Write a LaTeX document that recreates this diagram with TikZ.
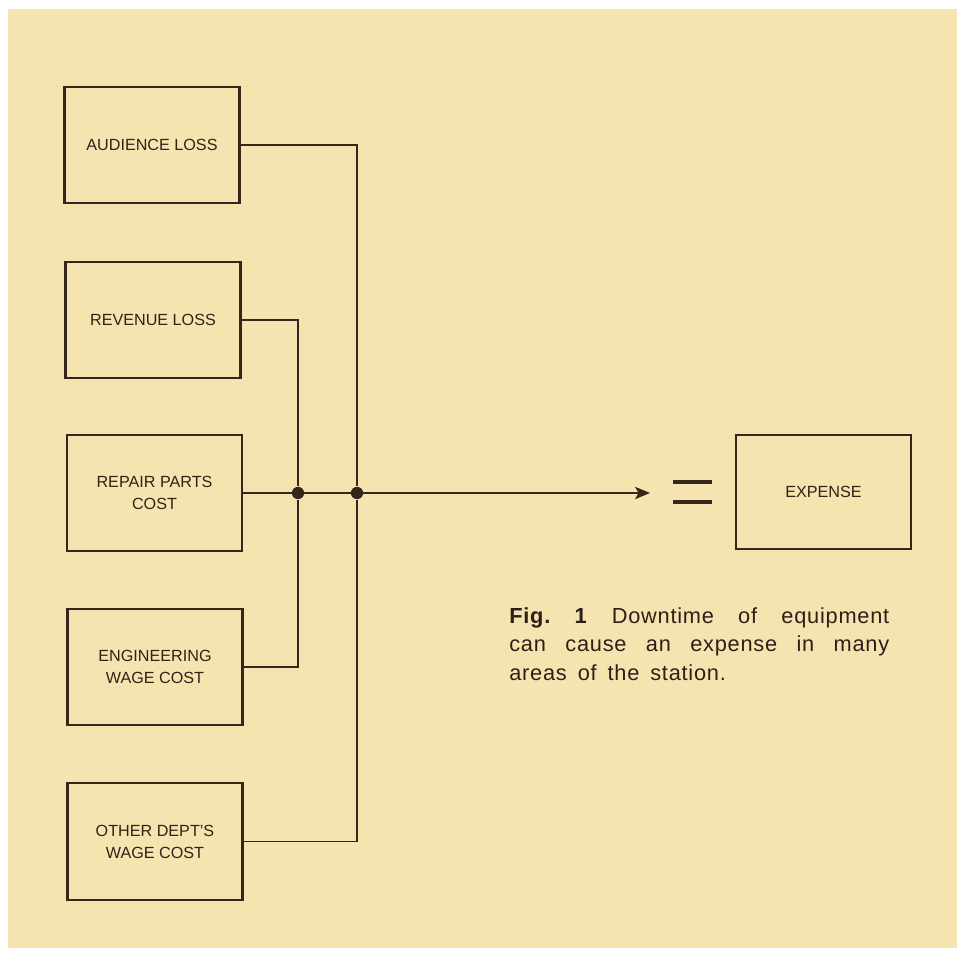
\documentclass[tikz,border=0pt]{standalone}
\usepackage{fontspec}
\setmainfont{Liberation Sans}
\newfontfamily\capfont[LetterSpace=3.5]{Liberation Sans}
\usetikzlibrary{arrows.meta}
\definecolor{paper}{RGB}{246,228,176}
\definecolor{ink}{RGB}{52,38,26}

\begin{document}
\frenchspacing
\begin{tikzpicture}[
  x=0.02cm, y=-0.02cm,
  box/.style     = {draw=ink, line width=1.3pt, minimum width=3.5cm,
                    minimum height=2.33cm, inner sep=2pt, align=center,
                    font=\fontsize{9.2}{12.5}\selectfont, text=ink!90!black},
  wire/.style    = {draw=ink, line width=1.1pt},
  arrow/.style   = {wire, -{Stealth[length=8.5pt,width=7pt,inset=2pt]}},
  junction/.style= {circle, fill=ink, inner sep=0pt, minimum size=7pt},
  eqbar/.style   = {draw=ink, line width=2.8pt},
  caption/.style = {anchor=north west, text width=7.6cm, align=justify,
                    inner sep=0pt, text=ink!85!black,
                    font=\capfont\fontsize{12.4}{16.4}\selectfont},
]
  % page: white margin round a sheet of old paper
  \useasboundingbox (0,0) rectangle (965,953);
  \fill[paper] (8,9) rectangle (957,948);

  % the five causes
  \node[box] (aud) at (152,145)   {AUDIENCE LOSS};
  \node[box] (rev) at (153,320)   {REVENUE LOSS};
  \node[box] (rep) at (154.5,493) {REPAIR PARTS\\COST};
  \node[box] (eng) at (155,667)   {ENGINEERING\\WAGE COST};
  \node[box] (oth) at (155,841.5) {OTHER DEPT'S\\WAGE COST};

  % the result
  \node[box, minimum height=2.28cm] (exp) at (823.5,492) {EXPENSE};

  % the two vertical buses meet the main line here
  \node[junction] (jin)  at (298,493) {};
  \node[junction] (jout) at (357,493) {};
  \coordinate (tip) at (650,493);

  \draw[wire] (rev.east) -| (jin);
  \draw[wire] (eng.east) -| (jin);
  \draw[wire] (aud.east) -| (jout);
  \draw[wire] (oth.east) -| (jout);
  \draw[arrow] (rep.east) -- (tip);

  % equals sign
  \draw[eqbar] (673,482) -- (712,482);
  \draw[eqbar] (673,502) -- (712,502);

  \node[caption] (cap) at (509,607) {\spaceskip=0.5em plus 1em
    \textbf{Fig. 1} Downtime of equipment\linebreak
    can cause an expense in many\linebreak
    areas of the station.};
\end{tikzpicture}
\end{document}
